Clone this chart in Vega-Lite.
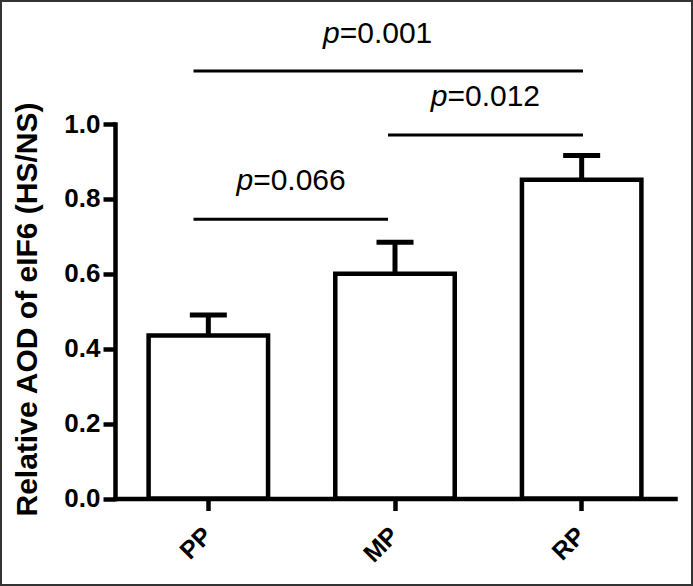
{
  "$schema": "https://vega.github.io/schema/vega-lite/v6.json",
  "width": 693,
  "height": 586,
  "autosize": {"type": "none"},
  "padding": 0,
  "background": "white",
  "datasets": {
    "bars": [
      {"group": "PP", "mean": 0.435, "upper": 0.49},
      {"group": "MP", "mean": 0.60, "upper": 0.684},
      {"group": "RP", "mean": 0.851, "upper": 0.916}
    ],
    "pvals": [
      {"p": "p", "rest": "=0.001", "from": 0.4205, "to": 2.507, "level": 1.1415, "tx": 1.2037, "ty": 1.2163},
      {"p": "p", "rest": "=0.012", "from": 1.4625, "to": 2.507, "level": 0.9706, "tx": 1.781, "ty": 1.048},
      {"p": "p", "rest": "=0.066", "from": 0.4205, "to": 1.4625, "level": 0.7455, "tx": 0.74, "ty": 0.8238}
    ]
  },
  "resolve": {"scale": {"x": "independent"}},
  "layer": [
    {
      "data": {"name": "bars"},
      "layer": [
        {
          "mark": {"type": "bar", "fill": "white", "stroke": "black", "strokeWidth": 4.5},
          "encoding": {
            "x": {"field": "group", "type": "nominal", "sort": ["PP", "MP", "RP"], "title": null,
                  "scale": {"range": [115, 675], "paddingInner": 0.36, "paddingOuter": 0.18}},
            "y": {"field": "mean", "type": "quantitative", "title": "Relative AOD of eIF6 (HS/NS)",
                  "scale": {"domain": [0, 1], "range": [498.5, 124], "nice": false, "zero": true},
                  "axis": {"values": [0, 0.2, 0.4, 0.6, 0.8, 1.0], "format": ".1f"}}
          }
        },
        {
          "mark": {"type": "rule", "color": "black", "strokeWidth": 5},
          "encoding": {
            "x": {"field": "group", "type": "nominal", "sort": ["PP", "MP", "RP"], "title": null,
                  "scale": {"range": [115, 675], "paddingInner": 0.36, "paddingOuter": 0.18}},
            "y": {"field": "mean", "type": "quantitative", "title": "Relative AOD of eIF6 (HS/NS)",
                  "scale": {"domain": [0, 1], "range": [498.5, 124], "nice": false, "zero": true}},
            "y2": {"field": "upper"}
          }
        },
        {
          "mark": {"type": "tick", "color": "black", "size": 37, "thickness": 5, "opacity": 1},
          "encoding": {
            "x": {"field": "group", "type": "nominal", "sort": ["PP", "MP", "RP"], "title": null,
                  "scale": {"range": [115, 675], "paddingInner": 0.36, "paddingOuter": 0.18}},
            "y": {"field": "upper", "type": "quantitative", "title": "Relative AOD of eIF6 (HS/NS)",
                  "scale": {"domain": [0, 1], "range": [498.5, 124], "nice": false, "zero": true}}
          }
        }
      ]
    },
    {
      "data": {"name": "pvals"},
      "layer": [
        {
          "mark": {"type": "rule", "color": "black", "strokeWidth": 3},
          "encoding": {
            "x": {"field": "from", "type": "quantitative", "axis": null,
                  "scale": {"domain": [0, 3], "range": [115, 675], "nice": false, "zero": false}},
            "x2": {"field": "to"},
            "y": {"field": "level", "type": "quantitative", "title": "Relative AOD of eIF6 (HS/NS)",
                  "scale": {"domain": [0, 1], "range": [498.5, 124], "nice": false, "zero": true}}
          }
        },
        {
          "mark": {"type": "text", "font": "Liberation Sans", "fontStyle": "italic", "fontSize": 30, "align": "right", "baseline": "alphabetic", "color": "black"},
          "encoding": {
            "x": {"field": "tx", "type": "quantitative", "axis": null,
                  "scale": {"domain": [0, 3], "range": [115, 675], "nice": false, "zero": false}},
            "y": {"field": "ty", "type": "quantitative", "title": "Relative AOD of eIF6 (HS/NS)",
                  "scale": {"domain": [0, 1], "range": [498.5, 124], "nice": false, "zero": true}},
            "text": {"field": "p"}
          }
        },
        {
          "mark": {"type": "text", "font": "Liberation Sans", "fontSize": 30, "align": "left", "baseline": "alphabetic", "color": "black"},
          "encoding": {
            "x": {"field": "tx", "type": "quantitative", "axis": null,
                  "scale": {"domain": [0, 3], "range": [115, 675], "nice": false, "zero": false}},
            "y": {"field": "ty", "type": "quantitative", "title": "Relative AOD of eIF6 (HS/NS)",
                  "scale": {"domain": [0, 1], "range": [498.5, 124], "nice": false, "zero": true}},
            "text": {"field": "rest"}
          }
        }
      ]
    }
  ],
  "config": {
    "view": {"stroke": "#333333", "strokeWidth": 4},
    "font": "Liberation Sans",
    "axis": {
      "domainColor": "black", "tickColor": "black", "labelColor": "black", "titleColor": "black",
      "grid": false, "labelFont": "Liberation Sans", "titleFont": "Liberation Sans",
      "labelFontWeight": "bold", "titleFontWeight": "bold",
      "domainWidth": 4.5, "tickWidth": 4.5, "tickSize": 12, "domainCap": "square"
    },
    "axisY": {
      "offset": -115, "labelFontSize": 26, "labelPadding": 3,
      "titleFontSize": 30, "titleX": -79, "titleY": 309, "titleAngle": 270,
      "titleBaseline": "alphabetic", "titleAlign": "center"
    },
    "axisX": {
      "offset": -87.5, "labelAngle": -45, "labelFontSize": 25, "labelPadding": 12, "labelOffset": -9
    }
  }
}
